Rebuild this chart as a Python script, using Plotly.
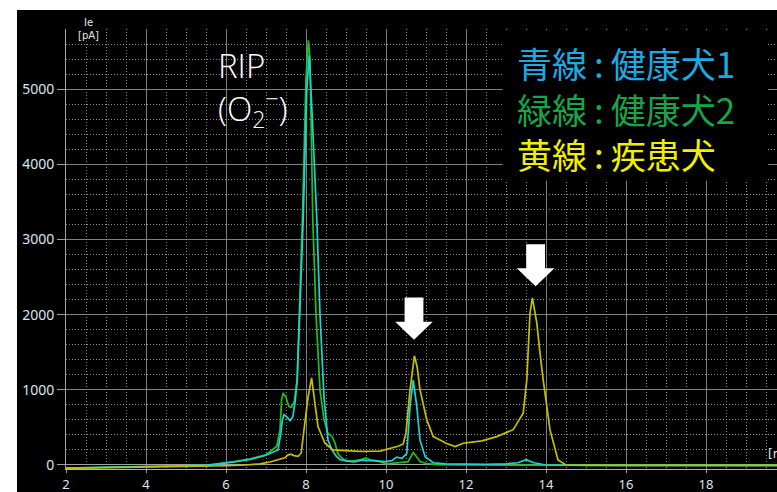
import plotly.graph_objects as go

# ---- data ----
x_blue = [2.0, 3.0, 4.0, 5.0, 5.5, 6.2, 6.6, 7.0, 7.3, 7.37, 7.41, 7.45, 7.52, 7.6, 7.67, 7.73, 7.78, 7.85,
          7.93, 8.02, 8.08, 8.15, 8.27, 8.35, 8.45, 8.55, 8.65, 8.75, 8.85, 9.0, 9.2, 9.4, 9.6, 9.8, 10.0,
          10.15, 10.27, 10.4, 10.52, 10.6, 10.68, 10.77, 10.85, 10.98, 11.18, 11.5, 12.0, 12.5, 13.0, 13.3,
          13.5, 13.7, 14.0, 15.0, 16.0, 17.0, 18.0, 19.0, 19.8]
y_blue = [-40, -30, -22, -12, -5, 40, 75, 130, 200, 420, 600, 670, 640, 590, 640, 850, 1130, 2100,
          3270, 5000, 5450, 4700, 3270, 2000, 900, 330, 200, 120, 70, 55, 40, 65, 60, 55, 45,
          60, 105, 90, 156, 780, 1130, 780, 330, 110, 30, 15, 10, 10, 15, 30,
          70, 30, 0, -5, -5, -5, -5, -5, -5]

x_green = [2.0, 3.0, 4.0, 5.0, 5.5, 6.2, 6.6, 7.0, 7.27, 7.35, 7.39, 7.43, 7.5, 7.57, 7.64, 7.71, 7.78, 7.85,
           7.91, 8.0, 8.06, 8.1, 8.17, 8.25, 8.35, 8.45, 8.55, 8.65, 8.72, 8.8, 8.9, 9.0, 9.2, 9.4, 9.5,
           9.6, 9.8, 10.0, 10.2, 10.4, 10.55, 10.62, 10.68, 10.75, 10.85, 11.0, 11.3, 12.0, 13.0, 13.5,
           14.0, 15.0, 16.0, 17.0, 18.0, 19.0, 19.8]
y_green = [-40, -30, -22, -12, -5, 45, 80, 135, 250, 470, 870, 960, 900, 780, 765, 850, 1150, 2300,
           3270, 5150, 5650, 5400, 3270, 2000, 1000, 600, 420, 380, 300, 150, 90, 60, 55, 75, 95,
           70, 55, 15, 20, 35, 45, 120, 165, 120, 45, 20, 5, 0, 0, 5,
           0, -5, -5, -5, -5, -5, -5]

x_yellow = [2.0, 3.0, 4.0, 5.0, 6.0, 6.5, 6.85, 7.1, 7.3, 7.47, 7.55, 7.62, 7.7, 7.8, 7.88, 7.97, 8.05,
            8.14, 8.2, 8.3, 8.47, 8.67, 9.0, 9.35, 9.85, 10.1, 10.3, 10.43, 10.5, 10.6, 10.71, 10.78,
            10.85, 11.02, 11.18, 11.35, 11.5, 11.73, 11.93, 12.4, 12.77, 13.18, 13.35, 13.43, 13.52,
            13.6, 13.66, 13.77, 13.85, 13.93, 14.1, 14.3, 14.5, 15.0, 16.0, 17.0, 18.0, 19.0, 19.8]
y_yellow = [-45, -38, -30, -20, -10, 0, 15, 40, 70, 95, 135, 143, 125, 115, 160, 533, 900,
            1160, 900, 511, 293, 200, 190, 180, 185, 220, 250, 280, 430, 1000, 1453, 1300,
            1000, 600, 378, 333, 290, 244, 289, 320, 378, 470, 620, 689, 1133,
            2022, 2222, 1889, 1489, 1133, 467, 67, 0, -5, -5, -5, -5, -5, -5]

x_ticks = [2, 4, 6, 8, 10, 12, 14, 16, 18]
y_ticks = [0, 1000, 2000, 3000, 4000, 5000]

legend_lines = ["青線\u2009:\u2009健康犬1", "緑線\u2009:\u2009健康犬2", "黄線\u2009:\u2009疾患犬"]
legend_colors = ["#1fa8e2", "#17a54a", "#f2ee00"]

arrow_x = [10.7, 13.74]
arrow_tip = [1667, 2377]

# ---- figure ----
X_RANGE = [2, 2 + 711 / 40]
Y_RANGE = [-53.3, 5800]

fig = go.Figure()
fig.add_trace(go.Scatter(x=x_green, y=y_green, mode="lines", line=dict(color="#1ec01e", width=1.7)))
fig.add_trace(go.Scatter(x=x_blue, y=y_blue, mode="lines", line=dict(color="#1ed2d6", width=1.7)))
fig.add_trace(go.Scatter(x=x_yellow, y=y_yellow, mode="lines", line=dict(color="#c4c000", width=1.7)))

shapes = []
# black page area (leaves thin white strip at left/top)
shapes.append(dict(type="rect", xref="paper", yref="paper", x0=-49 / 711, x1=1.01, y0=-0.06, y1=1 + 19 / 440,
                   fillcolor="black", line=dict(width=0), layer="below"))
# legend box
shapes.append(dict(type="rect", xref="x", yref="y", x0=12.92, x1=19.55, y0=3780, y1=5785,
                   fillcolor="black", line=dict(width=0), layer="above"))
# white down arrows
for ax, tip in zip(arrow_x, arrow_tip):
    sw, hw = 0.235, 0.47
    hh, sh = 240, 320
    path = (f"M {ax - sw},{tip + hh + sh} L {ax + sw},{tip + hh + sh} L {ax + sw},{tip + hh} "
            f"L {ax + hw},{tip + hh} L {ax},{tip} L {ax - hw},{tip + hh} L {ax - sw},{tip + hh} Z")
    shapes.append(dict(type="path", xref="x", yref="y", path=path, fillcolor="white",
                       line=dict(width=0), layer="above"))

annotations = []
annotations.append(dict(x=2.55, y=1.0, xref="x", yref="paper", text="Ie<br>[pA]", showarrow=False,
                        font=dict(family="DejaVu Sans", size=10, color="#e8e8e8"), bgcolor="black",
                        xanchor="center", yanchor="middle", borderpad=0))
annotations.append(dict(x=19.52, y=150, xref="x", yref="y", text="[min]", showarrow=False,
                        font=dict(family="DejaVu Sans", size=12, color="#e8e8e8"), bgcolor="black",
                        xanchor="left", yanchor="middle", borderpad=0))
annotations.append(dict(x=5.75, y=5640, xref="x", yref="y",
                        text="RIP<br>(O<sub>2</sub><sup>\u2212</sup>)", showarrow=False, align="left",
                        font=dict(family="Open Sans", size=33, color="white", weight=300),
                        xanchor="left", yanchor="top"))
legend_text = "<br>".join(f"<span style='color:{c}'>{t}</span>" for t, c in zip(legend_lines, legend_colors))
annotations.append(dict(x=13.22, y=4750, xref="x", yref="y", text=legend_text, showarrow=False,
                        align="left", font=dict(family="Noto Sans CJK JP", size=35, color=legend_colors[0]),
                        xanchor="left", yanchor="middle"))

grid_major = "#808080"
grid_minor = "#8c8c8c"

fig.update_layout(
    width=777, height=492,
    margin=dict(l=66, r=0, t=29, b=23, autoexpand=False),
    paper_bgcolor="white", plot_bgcolor="black",
    showlegend=False,
    shapes=shapes, annotations=annotations,
    xaxis=dict(range=X_RANGE, tickvals=x_ticks, ticktext=[str(v) for v in x_ticks],
               automargin=False,
               showgrid=True, gridcolor=grid_major, gridwidth=1,
               minor=dict(dtick=0.5, tick0=0, showgrid=True, gridcolor=grid_minor, griddash="1px,2px",
                          gridwidth=1),
               showline=True, linecolor="#b0b0b0", linewidth=1,
               ticks="outside", ticklen=3, tickcolor="#a0a0a0",
               tickfont=dict(family="Noto Sans", size=13, color="#dce6f2"), zeroline=False,
               fixedrange=True),
    yaxis=dict(range=Y_RANGE, tickvals=y_ticks, ticktext=[str(v) for v in y_ticks],
               automargin=False,
               showgrid=True, gridcolor=grid_major, gridwidth=1,
               minor=dict(dtick=200, tick0=0, showgrid=True, gridcolor=grid_minor, griddash="1px,2px",
                          gridwidth=1),
               zeroline=True, zerolinecolor="#a0a0a0", zerolinewidth=1,
               showline=True, linecolor="#a0a0a0", linewidth=1,
               ticks="outside", ticklen=8, tickcolor="#a0a0a0",
               tickfont=dict(family="Noto Sans", size=14, color="#dce6f2"),
               fixedrange=True),
)

fig.write_html("out.html", config={"displayModeBar": False})
